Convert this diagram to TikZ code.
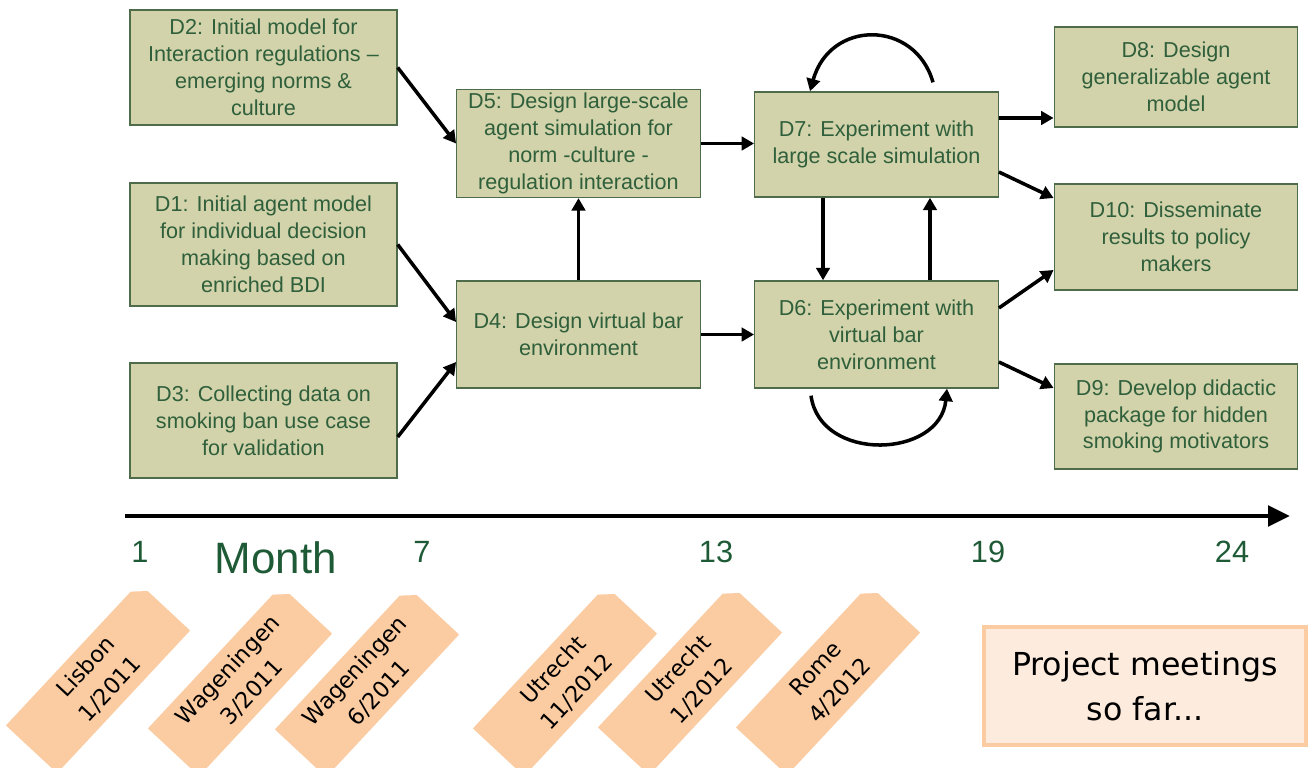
\documentclass[tikz,border=0pt]{standalone}
\usepackage{fontspec}
\setmainfont{Liberation Sans}
\newfontfamily\tagfont{DejaVu Sans}
\usetikzlibrary{arrows.meta,positioning,shapes.misc,calc}
\definecolor{khaki}{HTML}{D2D3AA}
\definecolor{darkolive}{HTML}{4E6B4A}
\definecolor{deeptext}{HTML}{2F5F3B}
\definecolor{monthgreen}{HTML}{1F5A36}
\definecolor{peach}{HTML}{FBCBA2}
\definecolor{lightpeach}{HTML}{FDEBDE}
\tikzset{
  deliv/.style={rectangle,draw=darkolive,line width=0.8pt,fill=khaki,text=deeptext,align=center,inner sep=2pt,font=\fontsize{12.3}{15.3}\selectfont},
  wide/.style={deliv,minimum width=5.34cm},
  mid/.style={deliv,minimum width=4.87cm},
  flow/.style={-{Triangle[length=2.5mm,width=2.7mm]},line width=2pt,black},
  timeline/.style={-{Triangle[length=4.4mm,width=4mm]},line width=2.8pt,black},
  tick/.style={text=monthgreen,font=\fontsize{17.5}{20}\selectfont,anchor=base,inner sep=0pt},
  meeting/.style={chamfered rectangle,chamfered rectangle corners=north east,chamfered rectangle xsep=0.12cm,chamfered rectangle ysep=0.12cm,fill=peach,rotate=47,minimum width=3.9cm,minimum height=1.4cm,inner sep=0pt,align=center,font=\tagfont\fontsize{12.8}{18.5}\selectfont},
  note/.style={rectangle,draw=peach,line width=2.3pt,fill=lightpeach,minimum width=6.44cm,minimum height=2.36cm,align=center,font=\tagfont\fontsize{18}{25.6}\selectfont}
}

\begin{document}
\begin{tikzpicture}[x=0.02cm,y=-0.02cm]
  \useasboundingbox (0,0) rectangle (1310,767);
  \clip (0,0) rectangle (1310,767);
  % deliverables
  \node[wide,minimum height=2.3cm] (D2) at (263.5,67.5) {D2: Initial model for\\Interaction regulations --\\emerging norms \&\\culture};
  \node[wide,minimum height=2.46cm] (D1) at (263.5,244.5) {D1: Initial agent model\\for individual decision\\making based on\\enriched BDI};
  \node[wide,minimum height=2.3cm] (D3) at (263.5,420.5) {D3: Collecting data on\\smoking ban use case\\for validation};
  \node[mid,minimum height=2.14cm] (D5) at (578.5,143.5) {D5: Design large-scale\\agent simulation for\\norm -culture -\\regulation interaction};
  \node[mid,minimum height=2.14cm] (D4) at (578.5,334.5) {D4: Design virtual bar\\environment};
  \node[mid,minimum height=2.1cm] (D7) at (876.5,144.5) {D7: Experiment with\\large scale simulation};
  \node[mid,minimum height=2.14cm] (D6) at (876.5,334.5) {D6: Experiment with\\virtual bar\\environment};
  \node[mid,minimum height=2.0cm] (D8) at (1176,77) {D8: Design\\generalizable agent\\model};
  \node[mid,minimum height=2.12cm] (D10) at (1176,237) {D10: Disseminate\\results to policy\\makers};
  \node[mid,minimum height=2.1cm] (D9) at (1176,416.5) {D9: Develop didactic\\package for hidden\\smoking motivators};

  \draw[flow] (D2.east) -- (D5.west);
  \draw[flow] (D1.east) -- ([yshift=0.25cm]D4.west);
  \draw[flow] ([yshift=-0.33cm]D3.east) -- ([yshift=-0.55cm]D4.west);
  \draw[flow] (D4.north) -- (D5.south);
  \draw[flow] (D4.east) -- (D6.west);
  \draw[flow] (D5.east) -- (D5.east -| D7.west);
  \draw[flow] ([xshift=-1.07cm]D7.south) -- ([xshift=-1.07cm]D6.north);
  \draw[flow] ([xshift=1.07cm]D6.north) -- ([xshift=1.07cm]D7.south);
  \draw[flow] ([yshift=0.53cm]D7.east) -- ([yshift=-0.82cm]D8.west);
  \draw[flow] ([yshift=-0.55cm]D7.east) -- ([yshift=0.78cm]D10.west);
  \draw[flow] ([yshift=0.53cm]D6.east) -- ([yshift=-0.66cm]D10.west);
  \draw[flow] ([yshift=-0.55cm]D6.east) -- ([yshift=0.57cm]D9.west);
  % self loops
  \draw[flow] ([xshift=1.13cm,yshift=0.18cm]D7.north) .. controls +(-0.36cm,1.26cm) and +(0.4cm,1.44cm) .. ([xshift=-1.33cm]D7.north);
  \draw[flow] ([xshift=-1.31cm,yshift=-0.14cm]D6.south) .. controls +(0.18cm,-1.34cm) and +(-0.14cm,-1.4cm) .. ([xshift=1.41cm]D6.south);

  % time axis
  \coordinate (t0) at (125,516);
  \coordinate (t1) at (1290,516);
  \draw[timeline] (t0) -- (t1);
  \node[tick] (m1) at (140,562) {1};
  \node[tick,font=\fontsize{25}{28}\selectfont] (month) at (276,573) {Month};
  \node[tick] (m7) at (422,562) {7};
  \node[tick] (m13) at (716,562) {13};
  \node[tick] (m19) at (988,562) {19};
  \node[tick] (m24) at (1232,562) {24};

  % meetings
  \node[meeting] (lis) at (98,678) {Lisbon\\1/2011};
  \node[meeting] (wag1) at (240,681) {Wageningen\\3/2011};
  \node[meeting] (wag2) at (367,682) {Wageningen\\6/2011};
  \node[meeting] (utr1) at (565,681) {Utrecht\\11/2012};
  \node[meeting] (utr2) at (690,680) {Utrecht\\1/2012};
  \node[meeting] (rom) at (828,680) {Rome\\4/2012};
  \node[note] (pm) at (1145,686) {Project meetings\\so far...};
\end{tikzpicture}
\end{document}
